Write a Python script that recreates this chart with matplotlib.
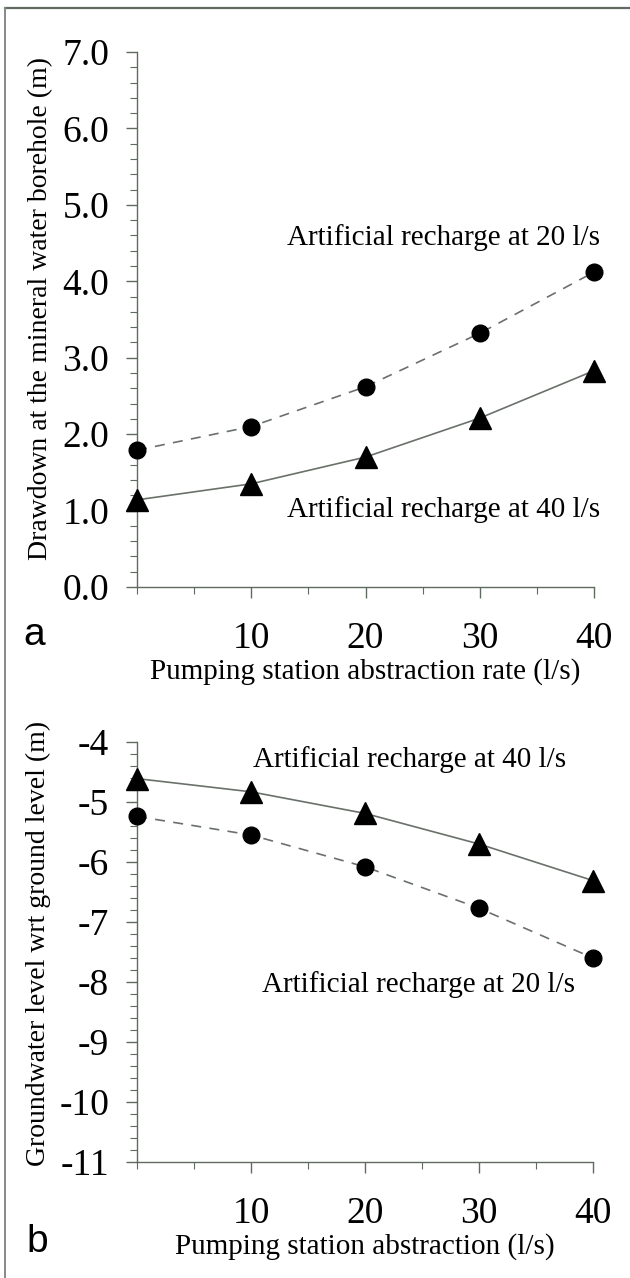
import matplotlib
matplotlib.use("Agg")
import matplotlib.pyplot as plt
from matplotlib.lines import Line2D
from matplotlib.ticker import MultipleLocator, FixedFormatter, FixedLocator

# ---- data ----
rates = [0, 10, 20, 30, 40]
drawdown_rech20 = [1.79, 2.10, 2.62, 3.32, 4.12]
drawdown_rech40 = [1.14, 1.35, 1.70, 2.21, 2.83]
level_rech40 = [-4.61, -4.83, -5.19, -5.70, -6.31]
level_rech20 = [-5.24, -5.55, -6.08, -6.77, -7.60]

x_ticks = [10, 20, 30, 40]
top_yticks = [0, 1, 2, 3, 4, 5, 6, 7]
bot_yticks = [-4, -5, -6, -7, -8, -9, -10, -11]

label_20 = "Artificial recharge at 20 l/s"
label_40 = "Artificial recharge at 40 l/s"

plt.rcParams["font.family"] = "serif"
plt.rcParams["font.serif"] = ["Liberation Serif", "DejaVu Serif"]
plt.rcParams["axes.unicode_minus"] = False
SANS = ["Liberation Sans", "DejaVu Sans"]

AX_COL = "#5f6b5f"
LINE_COL = "#6a716a"

TICK_FS = 27
TEXT_FS = 21
YLAB_FS = 20

W, H = 630, 1278
fig = plt.figure(figsize=(W / 100, H / 100), dpi=100)
fig.patch.set_facecolor("white")

def fx(px):
    return px / W

def fy(py):
    return 1 - py / H

ax1 = fig.add_axes([fx(137), fy(587), fx(594) - fx(137), fy(52) - fy(587)])
ax2 = fig.add_axes([fx(137), fy(1162), fx(593) - fx(137), fy(742) - fy(1162)])

def style(ax, ylim, yticks, fmt):
    ax.set_xlim(0, 40)
    ax.set_ylim(*ylim)
    for s in ["top", "right"]:
        ax.spines[s].set_visible(False)
    for s in ["left", "bottom"]:
        ax.spines[s].set_color(AX_COL)
        ax.spines[s].set_linewidth(1.0)
    ax.xaxis.set_major_locator(FixedLocator(x_ticks))
    ax.xaxis.set_major_formatter(FixedFormatter([str(v) for v in x_ticks]))
    ax.xaxis.set_minor_locator(MultipleLocator(5))
    ax.yaxis.set_major_locator(FixedLocator(yticks))
    ax.yaxis.set_major_formatter(FixedFormatter([fmt(v) for v in yticks]))
    ax.yaxis.set_minor_locator(MultipleLocator(0.2))
    ax.tick_params(axis="both", which="major", direction="out", length=8,
                   width=1.0, color=AX_COL, labelsize=TICK_FS)
    ax.tick_params(axis="y", which="major", pad=12)
    ax.tick_params(axis="x", which="major", pad=17)
    ax.tick_params(axis="both", which="minor", direction="out", length=5,
                   width=0.8, color=AX_COL)
    ax.set_facecolor("white")

# ---- panel a ----
style(ax1, (0, 7), top_yticks, lambda v: f"{v:.1f}")
ax1.plot(rates, drawdown_rech20, color=LINE_COL, lw=1.2, ls=(0, (6, 5)),
         marker="o", ms=12, mfc="black", mec="black", clip_on=False, zorder=3)
ax1.plot(rates, drawdown_rech40, color=LINE_COL, lw=1.2, ls="-",
         marker="^", ms=16, mfc="black", mec="black", clip_on=False, zorder=3)
ax1.text(40.5, 4.57, label_20, ha="right", va="center", fontsize=TEXT_FS)
ax1.text(40.5, 1.02, label_40, ha="right", va="center", fontsize=TEXT_FS)
ax1.set_xlabel("Pumping station abstraction rate (l/s)", fontsize=TEXT_FS)
ax1.xaxis.set_label_coords(0.5, (587 - 672) / 535, transform=ax1.transAxes)
ax1.set_ylabel("Drawdown at the mineral water borehole (m)", fontsize=YLAB_FS)
ax1.yaxis.set_label_coords(-0.212, 0.52, transform=ax1.transAxes)
ax1.yaxis.label.set_va("center")
ax1.xaxis.label.set_va("center")

# ---- panel b ----
style(ax2, (-11, -4), bot_yticks, lambda v: f"{v:d}")
ax2.plot(rates, level_rech40, color=LINE_COL, lw=1.2, ls="-",
         marker="^", ms=16, mfc="black", mec="black", clip_on=False, zorder=3)
ax2.plot(rates, level_rech20, color=LINE_COL, lw=1.2, ls=(0, (6, 5)),
         marker="o", ms=12, mfc="black", mec="black", clip_on=False, zorder=3)
ax2.text(10.2, -4.3, label_40, ha="left", va="center", fontsize=TEXT_FS)
ax2.text(11.0, -8.05, label_20, ha="left", va="center", fontsize=TEXT_FS)
ax2.set_xlabel("Pumping station abstraction (l/s)", fontsize=TEXT_FS)
ax2.xaxis.set_label_coords(0.5, (1162 - 1247) / 420, transform=ax2.transAxes)
ax2.set_ylabel("Groundwater level wrt ground level (m)", fontsize=YLAB_FS)
ax2.yaxis.set_label_coords(-0.217, 0.52, transform=ax2.transAxes)
ax2.yaxis.label.set_va("center")
ax2.xaxis.label.set_va("center")

# panel letters
fig.text(fx(23), fy(635), "a", fontsize=28, family=SANS, ha="left", va="center")
fig.text(fx(26), fy(1242), "b", fontsize=28, family=SANS, ha="left", va="center")

# frame around the figure
fig.add_artist(Line2D([fx(4.5), 1.0], [fy(8), fy(8)], color=AX_COL, lw=1.6))
fig.add_artist(Line2D([fx(4.5), fx(4.5)], [fy(8), 0.0], color="#888888", lw=1.4))

fig.savefig("out.png", dpi=100, facecolor="white")
